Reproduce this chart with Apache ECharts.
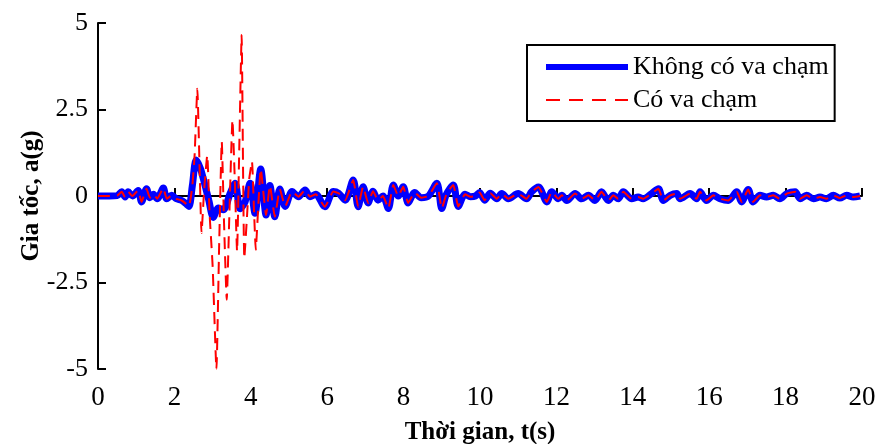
<!DOCTYPE html>
<html>
<head>
<meta charset="utf-8">
<script src="https://cdn.jsdelivr.net/npm/echarts@6/dist/echarts.min.js"></script>
<style>html,body{margin:0;padding:0;background:#fff}#c{width:877px;height:444px}</style>
</head>
<body>
<div id="c"></div>
<script>
// Tick labels
const xTicks = [0, 2, 4, 6, 8, 10, 12, 14, 16, 18, 20];
const yTicks = [-5, -2.5, 0, 2.5, 5];

// Series "Không có va chạm" (blue): time (s) and acceleration (g)
const blueT = [0, 0.3, 0.5, 0.62, 0.71, 0.79, 0.9, 1.05, 1.14, 1.27, 1.36, 1.45, 1.55, 1.71, 1.8, 1.93, 2.05, 2.19, 2.3, 2.38,
  2.47, 2.57, 2.68, 2.78, 2.9, 3.02, 3.15, 3.28, 3.46, 3.59, 3.72, 3.85, 3.98, 4.11, 4.26,
  4.4, 4.5, 4.63, 4.76, 4.9, 5.08, 5.25, 5.42, 5.55, 5.7, 5.94, 6.16, 6.3, 6.47, 6.68, 6.81, 6.94, 7.07, 7.2, 7.33, 7.46,
  7.6, 7.73, 7.86, 7.99, 8.12, 8.29, 8.46, 8.65, 8.87, 9.0, 9.12, 9.3, 9.43, 9.61, 9.75, 9.88, 9.99, 10.12, 10.27,
  10.44, 10.57, 10.74, 11.0, 11.22, 11.35, 11.53, 11.75, 11.88, 12.05, 12.14, 12.27, 12.49, 12.66, 12.84, 13.01,
  13.18, 13.36, 13.49, 13.62, 13.75, 13.97, 14.14, 14.27, 14.49, 14.67, 14.8, 14.98, 15.15, 15.24, 15.5, 15.67,
  15.76, 15.93, 16.11, 16.28, 16.5, 16.72, 16.85, 17.02, 17.15, 17.33, 17.5, 17.68, 17.85, 18.03, 18.25, 18.38,
  18.55, 18.73, 18.9, 19.07, 19.25, 19.42, 19.6, 19.77, 19.95];
const blueA = [0, 0, 0.01, 0.12, -0.03, 0.12, 0, 0.16, -0.17, 0.21, -0.05, 0.05, -0.08, 0.23, -0.08, 0.02, -0.08, -0.13, -0.22, -0.3,
  0.3, 1.04, 0.8, 0.4, -0.12, -0.62, -0.35, -0.4, 0.08, 0.37, -0.37, -0.17, 0.37, -0.5, 0.78,
  -0.55, 0.3, -0.6, 0.2, -0.3, 0.13, -0.02, 0.17, -0.02, 0.05, -0.31, 0.13, 0.08, -0.12, 0.46, -0.31, 0.27, -0.2, 0.14, -0.12, 0,
  -0.36, 0.32, 0, 0.27, -0.2, 0.1, -0.05, 0, 0.37, -0.36, 0.05, 0.32, -0.3, 0.05, -0.02, 0, 0.1, -0.12, 0.08,
  -0.08, 0.07, -0.08, 0.07, -0.08, 0.12, 0.26, -0.17, 0.12, -0.08, 0.02, -0.13, 0.07, -0.08, 0.02, -0.13,
  0.12, -0.13, 0.02, -0.08, 0.12, -0.08, -0.03, -0.08, 0.07, 0.21, -0.13, 0.02, 0.07, -0.08, 0.07, -0.08,
  0.12, -0.13, 0.02, -0.08, -0.13, 0.12, -0.17, 0.19, -0.17, 0.02, -0.03, 0.02, -0.08, 0.07, 0.12, -0.08,
  0.02, -0.08, -0.03, -0.08, 0.02, -0.06, 0.02, -0.03, 0];

// Series "Có va chạm" (red): identical to blue outside the impact window, these values inside it
const redImpactT = [2.47, 2.53, 2.6, 2.66, 2.71, 2.78, 2.86, 2.92, 3.0, 3.1, 3.17, 3.24, 3.3, 3.37, 3.44, 3.52, 3.58, 3.64,
  3.7, 3.76, 3.8, 3.83, 3.9, 3.96, 4.03, 4.08, 4.13, 4.2, 4.26];
const redImpactA = [0.3, 1.2, 3.1, 0.8, -1.07, 0.2, 1.18, -0.5, -2.0, -5.0, -1.5, 1.57, -0.8, -3.0, -0.5, 2.2, 0.5, -1.6,
  1.5, 4.65, 0.5, -1.8, -0.6, 0.5, 1.0, -0.3, -1.55, -0.2, 0.78];

const seriesNames = ['Không có va chạm', 'Có va chạm'];

const blueData = blueT.map((t, i) => [t, blueA[i]]);
const tStart = redImpactT[0], tEnd = redImpactT[redImpactT.length - 1];
const redData = []
  .concat(blueData.filter(p => p[0] < tStart))
  .concat(redImpactT.map((t, i) => [t, redImpactA[i]]))
  .concat(blueData.filter(p => p[0] > tEnd));

const serif = '"Liberation Serif", "Times New Roman", serif';
const chart = echarts.init(document.getElementById('c'), null, {renderer: 'canvas'});
chart.setOption({
  animation: false,
  backgroundColor: '#ffffff',
  grid: {left: 98, right: 15, top: 23, bottom: 75, containLabel: false, outerBoundsMode: 'none'},
  legend: {
    orient: 'vertical', left: 527, top: 45,
    padding: [9, 6, 8, 16], itemGap: 7,
    itemWidth: 82, itemHeight: 14,
    borderColor: '#000', borderWidth: 2,
    backgroundColor: '#fff',
    itemStyle: {opacity: 0},
    textStyle: {fontFamily: serif, fontSize: 26, color: '#000'},
    data: [
      {name: seriesNames[0], lineStyle: {color: '#0000ff', width: 6, type: 'solid'}},
      {name: seriesNames[1], lineStyle: {color: '#ff0000', width: 2, type: [14, 9]}}
    ]
  },
  xAxis: {
    type: 'value', min: 0, max: 20, interval: 2,
    name: 'Thời gian, t(s)', nameLocation: 'middle', nameGap: 51, nameMoveOverlap: false,
    nameTextStyle: {fontFamily: serif, fontSize: 25, fontWeight: 'bold', color: '#000'},
    axisLine: {lineStyle: {color: '#000', width: 2}},
    axisTick: {inside: true, length: 8, lineStyle: {color: '#000', width: 2}},
    axisLabel: {margin: 15, fontFamily: serif, fontSize: 27, color: '#000',
      formatter: v => xTicks.includes(v) ? String(v) : ''},
    splitLine: {show: false}
  },
  yAxis: {
    type: 'value', min: -5, max: 5, interval: 2.5,
    name: 'Gia tốc, a(g)', nameLocation: 'middle', nameGap: 54, nameRotate: 90, nameMoveOverlap: false,
    nameTextStyle: {fontFamily: serif, fontSize: 25, fontWeight: 'bold', color: '#000'},
    axisLine: {lineStyle: {color: '#000', width: 2}},
    axisTick: {inside: true, length: 8, lineStyle: {color: '#000', width: 2}},
    axisLabel: {margin: 10, fontFamily: serif, fontSize: 26, color: '#000',
      formatter: v => yTicks.includes(v) ? String(v) : ''},
    splitLine: {show: false}
  },
  series: [
    {
      name: seriesNames[0], type: 'line', data: blueData,
      showSymbol: false, symbol: 'none', smooth: 0.3, z: 2,
      lineStyle: {color: '#0000ff', width: 7},
      itemStyle: {color: '#0000ff'}
    },
    {
      name: seriesNames[1], type: 'line', data: redData,
      showSymbol: false, symbol: 'none', smooth: 0.15, z: 3,
      lineStyle: {color: '#ff0000', width: 2, type: [12, 7]},
      itemStyle: {color: '#ff0000'}
    }
  ]
});
</script>
</body>
</html>
